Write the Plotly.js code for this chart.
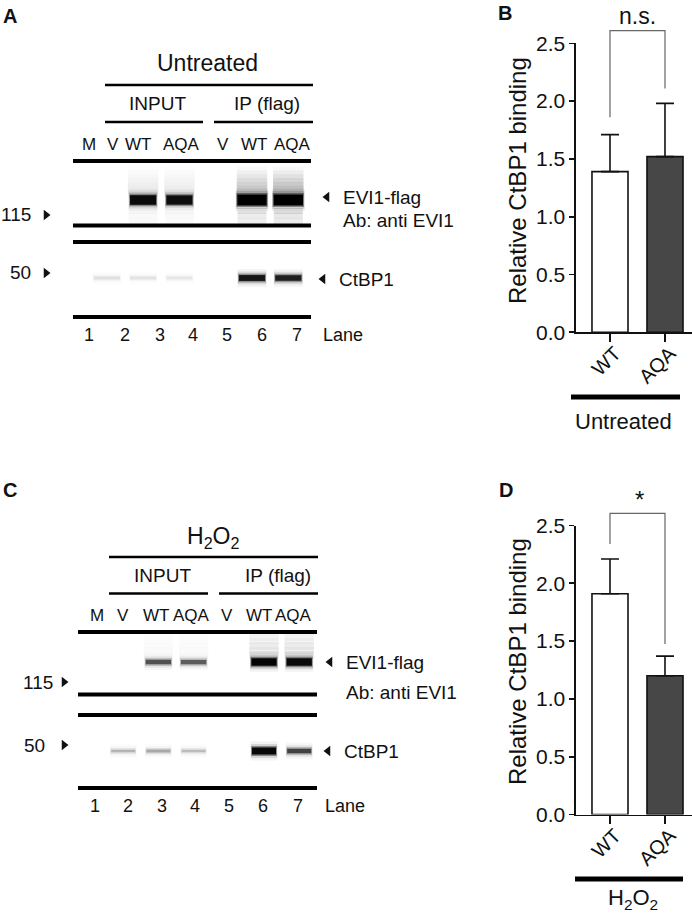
<!DOCTYPE html>
<html><head><meta charset="utf-8">
<script src="https://cdn.plot.ly/plotly-3.0.1.min.js"></script>
<style>html,body{margin:0;padding:0;background:#fff}#chart{width:692px;height:917px}</style>
</head><body><div id="chart"></div>
<script>
// ---------------- DATA ----------------
const groups = ["WT", "AQA"];
const untreatedMean = [1.39, 1.52];
const untreatedSD = [0.32, 0.46];
const h2o2Mean = [1.91, 1.20];
const h2o2SD = [0.30, 0.17];
const yTickVals = [0, 0.5, 1.0, 1.5, 2.0, 2.5];
const yTickText = ["0.0", "0.5", "1.0", "1.5", "2.0", "2.5"];
const laneNumbers = ["1", "2", "3", "4", "5", "6", "7"];
const laneLabels = ["M", "V", "WT", "AQA", "V", "WT", "AQA"];
// blot band darkness per lane (0 = no band, 1 = saturated)
const untreatedEVI1 = [0, 0, 0.92, 0.9, 0, 1.0, 1.0];
const untreatedEVI1Smear = [0, 0, 0.1, 0.09, 0, 0.3, 0.36];
const untreatedCtBP1 = [0, 0.08, 0.07, 0.06, 0, 0.85, 0.8];
const h2o2EVI1 = [0, 0, 0.55, 0.5, 0, 0.97, 0.93];
const h2o2EVI1Smear = [0, 0, 0.03, 0.03, 0, 0.14, 0.14];
const h2o2CtBP1 = [0, 0.2, 0.24, 0.18, 0, 0.95, 0.62];

// ---------------- HELPERS ----------------
const W = 692, H = 917;
const FONT = "Liberation Sans, Arial, Helvetica, sans-serif";
const px = v => v / W, py = v => 1 - v / H;
const traces = [];

function addBand(xa, ya, lane, row, d, halfW, thick) {
  if (!(d > 0)) return;
  const layers = [
    {w: thick + 12, a: 0.05 * d, hw: halfW * 1.0},
    {w: thick + 7, a: 0.13 * d, hw: halfW * 0.99},
    {w: thick + 3, a: 0.4 * d, hw: halfW * 0.96},
    {w: thick, a: Math.min(1, d), hw: halfW * 0.9}
  ];
  for (const L of layers) {
    traces.push({type: 'scatter', mode: 'lines', x: [lane - L.hw, lane + L.hw], y: [row, row],
      xaxis: xa, yaxis: ya, line: {color: `rgba(0,0,0,${L.a.toFixed(3)})`, width: L.w},
      hoverinfo: 'skip', showlegend: false});
  }
}
function addSmear(xa, ya, lane, row, s, halfW, offsets, weights, width) {
  if (!(s > 0)) return;
  offsets.forEach((o, i) => {
    traces.push({type: 'scatter', mode: 'lines', x: [lane - halfW, lane + halfW], y: [row + o, row + o],
      xaxis: xa, yaxis: ya, line: {color: `rgba(0,0,0,${(s * weights[i]).toFixed(3)})`, width: width},
      hoverinfo: 'skip', showlegend: false});
  });
}
function thickOf(d, base, k) { return base + k * d * d; }

const smearUp = [-0.08, -0.13, -0.18, -0.23, -0.28, -0.33, -0.38];
const smearUpW = [0.45, 0.4, 0.34, 0.27, 0.2, 0.13, 0.07];
// ---------------- BLOT A (untreated) ----------------
laneNumbers.forEach((ln, i) => {
  const lane = i + 1;
  addSmear('x3', 'y3', lane, 0, untreatedEVI1Smear[i], 0.42, smearUp, smearUpW, 8);
  addSmear('x3', 'y3', lane, 0, untreatedEVI1Smear[i], 0.4, [0.14, 0.2, 0.27], [0.3, 0.25, 0.22], 6);
  addBand('x3', 'y3', lane, 0, untreatedEVI1[i], untreatedEVI1[i] > 0.95 ? 0.45 : 0.4, thickOf(untreatedEVI1[i], 2, 9));
  addBand('x3', 'y3', lane, 1, untreatedCtBP1[i], 0.4, thickOf(untreatedCtBP1[i], 3, 4));
});
// ---------------- BLOT C (H2O2) ----------------
laneNumbers.forEach((ln, i) => {
  const lane = i + 1;
  addSmear('x4', 'y4', lane, 0, h2o2EVI1Smear[i], 0.42, smearUp, smearUpW, 8);
  addBand('x4', 'y4', lane, 0, h2o2EVI1[i], 0.4, thickOf(h2o2EVI1[i], 3, 5));
  addBand('x4', 'y4', lane, 1, h2o2CtBP1[i], 0.38, thickOf(h2o2CtBP1[i], 2.5, 5));
});

// ---------------- BAR CHARTS ----------------
const barStyle = {color: ['#ffffff', '#474747'], line: {color: '#111', width: 1.6}};
traces.push({type: 'bar', x: groups, y: untreatedMean, xaxis: 'x', yaxis: 'y', width: 0.655,
  marker: barStyle, hoverinfo: 'skip', showlegend: false,
  error_y: {type: 'data', symmetric: false, array: untreatedSD, arrayminus: [0, 0], color: '#111', thickness: 1.6, width: 9}});
traces.push({type: 'bar', x: groups, y: h2o2Mean, xaxis: 'x2', yaxis: 'y2', width: 0.655,
  marker: barStyle, hoverinfo: 'skip', showlegend: false,
  error_y: {type: 'data', symmetric: false, array: h2o2SD, arrayminus: [0, 0], color: '#111', thickness: 1.6, width: 9}});
// significance brackets
traces.push({type: 'scatter', mode: 'lines', x: [0, 0, 1, 1], y: [1.86, 2.61, 2.61, 2.11], xaxis: 'x5', yaxis: 'y5',
  line: {color: '#666', width: 1.2}, hoverinfo: 'skip', showlegend: false});
traces.push({type: 'scatter', mode: 'lines', x: [0, 0, 1, 1], y: [2.34, 2.605, 2.605, 1.475], xaxis: 'x6', yaxis: 'y6',
  line: {color: '#666', width: 1.2}, hoverinfo: 'skip', showlegend: false});
// molecular-weight / band pointer triangles (page pixel overlay)
traces.push({type: 'scatter', mode: 'markers', x: [46, 46, 64, 64], y: [215, 273, 682, 745], xaxis: 'x7', yaxis: 'y7',
  marker: {symbol: 'triangle-right', size: 9, color: '#111'}, hoverinfo: 'skip', showlegend: false, cliponaxis: false});
traces.push({type: 'scatter', mode: 'markers', x: [327, 323, 330, 328], y: [197, 279, 662, 751], xaxis: 'x7', yaxis: 'y7',
  marker: {symbol: 'triangle-left', size: 9, color: '#111'}, hoverinfo: 'skip', showlegend: false, cliponaxis: false});

// ---------------- LAYOUT ----------------
const barX = {range: [-0.618, 1.491], showline: true, linecolor: '#111', linewidth: 1.6, ticks: 'outside',
  ticklen: 8, tickwidth: 1.6, tickcolor: '#111', tickangle: -45, tickfont: {size: 20, color: '#111', family: FONT},
  ticklabelstandoff: -8, ticklabelshift: 5,
  showgrid: false, zeroline: false, fixedrange: true};
const barY = {range: [0, 2.5], tickvals: yTickVals, ticktext: yTickText, showline: true, linecolor: '#111',
  linewidth: 1.6, ticks: 'outside', ticklen: 5, tickwidth: 1.6, tickcolor: '#111',
  tickfont: {size: 21, color: '#111', family: FONT}, showgrid: false, zeroline: false, fixedrange: true};
const hidden = {visible: false, fixedrange: true, showgrid: false, zeroline: false};

const shapes = [];
function hline(x0, x1, y, w) {
  shapes.push({type: 'line', xref: 'paper', yref: 'paper', x0: px(x0), x1: px(x1), y0: py(y), y1: py(y),
    line: {color: '#000', width: w}});
}
// blot A frame lines
hline(73, 311, 161, 4); hline(73, 311, 225.5, 4); hline(73, 311, 242, 4); hline(73, 311, 317, 4);
// blot A header lines
hline(105, 313, 85, 2.6); hline(105, 203, 122, 2.6); hline(214, 313, 122, 2.6);
// blot C frame lines
hline(78, 317, 632, 4); hline(78, 317, 694.5, 4); hline(78, 317, 715, 4); hline(78, 317, 788, 4);
// blot C header lines
hline(109, 318, 557, 2.6); hline(109, 208, 593.5, 2.6); hline(219, 318, 593.5, 2.6);
// bar chart group underlines
hline(571, 680, 397, 5); hline(575, 683, 879, 5);

const ann = [];
function txt(text, x, y, size, opt) {
  ann.push(Object.assign({text: text, x: px(x), y: py(y), xref: 'paper', yref: 'paper', showarrow: false,
    font: {size: size, color: '#111', family: FONT}, xanchor: 'center', yanchor: 'middle'}, opt || {}));
}
// panel letters
txt('<b>A</b>', 10, 16, 20); txt('<b>B</b>', 505, 13, 20); txt('<b>C</b>', 10, 490, 20); txt('<b>D</b>', 506, 490, 20);
// blot A labels
txt('Untreated', 207, 63, 23);
txt('INPUT', 157, 103, 19); txt('IP (flag)', 267, 103, 19);
const laneLabelXA = [89, 113, 138, 181, 223, 254, 292];
laneLabels.forEach((t, i) => txt(t, laneLabelXA[i], 145, 17));
txt('115', 33, 215, 19, {xanchor: 'right'});
txt('50', 33, 273, 19, {xanchor: 'right'});
txt('EVI1-flag', 341, 197, 19, {xanchor: 'left'});
txt('Ab: anti EVI1', 341, 220, 19, {xanchor: 'left'});
txt('CtBP1', 337, 279, 19, {xanchor: 'left'});
const laneNumXA = [89, 125, 160, 193, 227, 262, 297];
laneNumbers.forEach((t, i) => txt(t, laneNumXA[i], 335, 18));
txt('Lane', 321, 335, 18, {xanchor: 'left'});
// blot C labels
txt('H<sub>2</sub>O<sub>2</sub>', 213, 537, 23);
txt('INPUT', 162, 575, 19); txt('IP (flag)', 278, 575, 19);
const laneLabelXC = [97, 123, 156, 191, 227, 259, 293];
laneLabels.forEach((t, i) => txt(t, laneLabelXC[i], 615, 17));
txt('115', 55, 682, 19, {xanchor: 'right'});
txt('50', 47, 745, 19, {xanchor: 'right'});
txt('EVI1-flag', 344, 662, 19, {xanchor: 'left'});
txt('Ab: anti EVI1', 344, 692, 19, {xanchor: 'left'});
txt('CtBP1', 342, 751, 19, {xanchor: 'left'});
const laneNumXC = [95, 128, 162, 195, 229, 263, 298];
laneNumbers.forEach((t, i) => txt(t, laneNumXC[i], 806, 18));
txt('Lane', 323, 806, 18, {xanchor: 'left'});
// bar chart labels
txt('Relative CtBP1 binding', 517, 181, 24, {textangle: -90});
txt('Relative CtBP1 binding', 517, 662, 24, {textangle: -90});
txt('n.s.', 637, 16, 23);
txt('*', 639, 499, 24);
txt('Untreated', 623, 421, 22);
txt('H<sub>2</sub>O<sub>2</sub>', 633, 899, 22);

const layout = {
  width: W, height: H, margin: {l: 0, r: 0, t: 0, b: 0}, autosize: false,
  paper_bgcolor: '#ffffff', plot_bgcolor: 'rgba(0,0,0,0)', showlegend: false, bargap: 0,
  font: {family: FONT, color: '#111'},
  xaxis: Object.assign({}, barX, {domain: [576 / W, 1], anchor: 'y'}),
  yaxis: Object.assign({}, barY, {domain: [py(332.3), py(43.3)], anchor: 'x'}),
  xaxis2: Object.assign({}, barX, {domain: [576 / W, 1], anchor: 'y2'}),
  yaxis2: Object.assign({}, barY, {domain: [py(814.5), py(525.5)], anchor: 'x2'}),
  xaxis3: Object.assign({}, hidden, {domain: [73 / W, 311 / W], range: [1.0689, 7.6253], anchor: 'y3'}),
  yaxis3: Object.assign({}, hidden, {domain: [py(317), py(160)], range: [1.5, -0.513], anchor: 'x3'}),
  xaxis4: Object.assign({}, hidden, {domain: [78 / W, 317 / W], range: [0.716, 7.506], anchor: 'y4'}),
  yaxis4: Object.assign({}, hidden, {domain: [py(788), py(631.7)], range: [1.4157, -0.3404], anchor: 'x4'}),
  xaxis5: Object.assign({}, hidden, {domain: [576 / W, 1], range: [-0.618, 1.491], anchor: 'y5'}),
  yaxis5: Object.assign({}, hidden, {domain: [py(332.3), 1], range: [0, 332.3 / 115.6], anchor: 'x5'}),
  xaxis6: Object.assign({}, hidden, {domain: [576 / W, 1], range: [-0.618, 1.491], anchor: 'y6'}),
  yaxis6: Object.assign({}, hidden, {domain: [py(814.5), py(470)], range: [0, (814.5 - 470) / 115.6], anchor: 'x6'}),
  xaxis7: Object.assign({}, hidden, {domain: [0, 1], range: [0, W], anchor: 'y7'}),
  yaxis7: Object.assign({}, hidden, {domain: [0, 1], range: [H, 0], anchor: 'x7'}),
  shapes: shapes,
  annotations: ann
};
Plotly.newPlot('chart', traces, layout, {staticPlot: true, displayModeBar: false});
</script></body></html>
